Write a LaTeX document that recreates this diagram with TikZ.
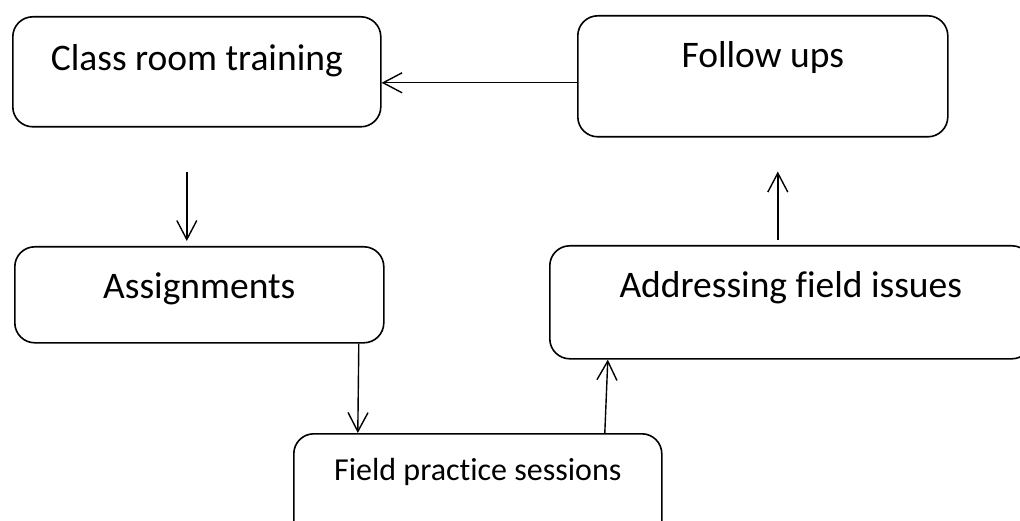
\documentclass[tikz,border=0pt]{standalone}
\usepackage{fontspec}
\setmainfont{Carlito}[Ligatures=CommonOff]
\usetikzlibrary{arrows.meta}
\begin{document}
\begin{tikzpicture}[x=1pt,y=-1pt,
  box/.style={draw,line width=1.6pt,rounded corners=20pt,inner sep=0pt,anchor=north west,align=center},
  big/.style={font=\fontsize{37.5}{42}\selectfont},
  arr/.style={line width=1.4pt,-{Straight Barb[length=19pt,width=20pt,line width=1.4pt]}}]
\useasboundingbox (0,0) rectangle (1020,521);
\node[box,big,minimum width=368pt,text height=54pt,text depth=56pt] (cls) at (12,16) {Class room training};
\node[box,big,minimum width=370pt,text height=52pt,text depth=69pt] (fol) at (577,15) {Follow ups};
\node[box,big,minimum width=369pt,text height=52pt,text depth=44pt] (asg) at (14,246) {Assignments};
\node[box,big,minimum width=482pt,text height=52pt,text depth=61pt] (adr) at (549,245) {Addressing field issues};
\node[box,minimum width=368pt,text height=47pt,text depth=65pt,font=\fontsize{32}{36}\selectfont] (fps) at (293,433) {Field practice sessions};
\draw[arr] ([yshift=-6.5pt]fol.west) -- ([yshift=-11pt]cls.east);
\draw[arr] ([xshift=-10pt,yshift=-44pt]cls.south) -- ([xshift=-12.5pt,yshift=5pt]asg.north);
\draw[arr] ([xshift=159.5pt]asg.south) -- ([xshift=-120pt]fps.north);
\draw[arr] ([xshift=127pt]fps.north) -- ([xshift=-183pt]adr.south);
\draw[arr] ([xshift=-13pt,yshift=5pt]adr.north) -- ([xshift=15pt,yshift=-34pt]fol.south);
\end{tikzpicture}
\end{document}
